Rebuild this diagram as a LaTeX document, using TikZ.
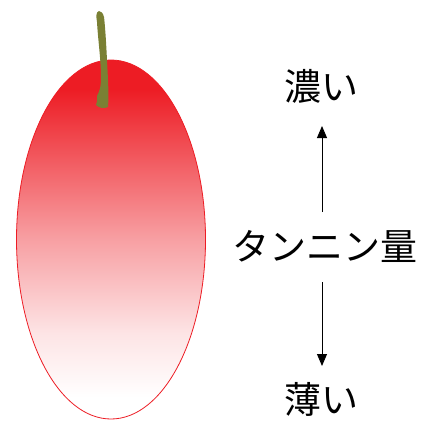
\documentclass[tikz,border=0pt]{standalone}
\usepackage{fontspec}
\newfontfamily\jp{Noto Sans CJK JP}
\usetikzlibrary{arrows.meta}
\definecolor{berry}{RGB}{237,28,36}
\definecolor{stemgreen}{RGB}{122,128,52}
% vertical red-to-white fade for the berry (path spans 25bp..75bp)
\pgfdeclareverticalshading{berryfade}{100bp}{
  color(0bp)=(white); color(28bp)=(white); color(37bp)=(berry!12);
  color(50bp)=(berry!42); color(62bp)=(berry!75); color(71bp)=(berry);
  color(100bp)=(berry)}
\tikzset{
  label/.style={font=\jp\fontsize{37}{42}\selectfont, inner sep=0pt},
  scalearrow/.style={line width=0.9pt, -{Triangle[length=12pt,width=10pt]}}
}
\begin{document}
\begin{tikzpicture}[x=1pt,y=-1pt]
\useasboundingbox (0,0) rectangle (433,420);
% grape berry
\shade[shading=berryfade]
  (111,239.5) ellipse [x radius=94.5, y radius=179.5];
\draw[berry, line width=0.8pt] (111,239.5) ellipse [x radius=94.5, y radius=179.5];
% stem
\fill[stemgreen] (99,11) .. controls (96,12) and (96,16) .. (97,22)
  .. controls (98,40) and (101,60) .. (101,78)
  .. controls (101,88) and (99,92) .. (97,96)
  .. controls (98,99) and (97,102) .. (96,105)
  .. controls (99,108) and (104,109) .. (108,107)
  .. controls (109,95) and (108,80) .. (107,60)
  .. controls (106,40) and (105,25) .. (104,17)
  .. controls (103,13) and (101,11) .. (99,11) -- cycle;
% labels
\node[label] (dark) at (321,86) {濃い};
\node[label] (amount) at (325,246) {タンニン量};
\node[label] (light) at (321,399) {薄い};
\coordinate (upstart) at (322,212);
\coordinate (downstart) at (322,282);
\coordinate (uptip) at (322,126);
\coordinate (downtip) at (322,366);
\draw[scalearrow] (upstart) -- (uptip);
\draw[scalearrow] (downstart) -- (downtip);
\end{tikzpicture}
\end{document}
